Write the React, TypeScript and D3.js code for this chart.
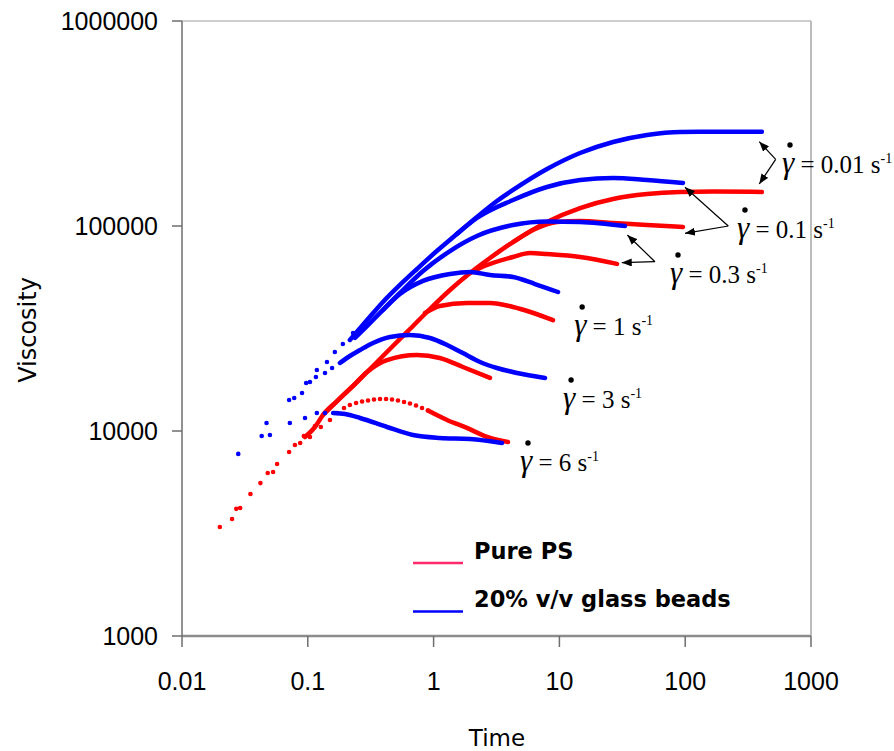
import React from "react";
import * as d3 from "d3";

const W = 894;
const H = 751;

const X_TICKS = [0.01, 0.1, 1, 10, 100, 1000];
const X_LABELS = ["0.01", "0.1", "1", "10", "100", "1000"];
const Y_TICKS = [1000, 10000, 100000, 1000000];
const Y_LABELS = ["1000", "10000", "100000", "1000000"];

// Pure PS  [time, viscosity]
const ps6Dots = [[0.020, 3400], [0.027, 4170], [0.035, 4930], [0.042, 5570], [0.053, 6310], [0.071, 7900], [0.087, 8740], [0.104, 9350], [0.127, 10460], [0.150, 11320], [0.171, 12240], [0.194, 12950], [0.216, 13390], [0.242, 13700], [0.270, 13920], [0.301, 14090], [0.336, 14240], [0.375, 14320], [0.419, 14320], [0.467, 14240], [0.521, 14090], [0.582, 13840], [0.649, 13620], [0.725, 13320], [0.809, 12950], [0.902, 12590]];
const ps6Line = [[0.902, 12590], [1.28, 11320], [1.84, 10350], [2.66, 9350], [3.9, 8840]];
const ps3Dots = [[0.025, 3720], [0.029, 4210], [0.048, 6240], [0.057, 6900], [0.079, 8550], [0.093, 9460], [0.114, 10580]];
const ps3Line = [[0.132, 11970], [0.171, 14000], [0.229, 16590], [0.296, 19400], [0.426, 22190], [0.738, 23480], [1.12, 22700], [1.71, 20520], [2.81, 18150]];
const ps1Line = [[0.855, 37660], [1.12, 40730], [1.84, 42110], [2.81, 42110], [4.28, 40290], [8.89, 34760]];
const ps03Line = [[1.95, 58990], [2.34, 62400], [4.28, 70630], [5.84, 73800], [7.97, 72980], [14.6, 70630], [28.7, 65320]];
const ps01Line = [[4.28, 83500], [6.4, 96700], [9.57, 104700], [14.6, 105800], [26.7, 103500], [49.7, 101100], [96.1, 98900]];
const ps001Line = [[0.095, 9350], [0.114, 10460], [0.132, 11970], [0.171, 14000], [0.229, 16590], [0.296, 19400], [0.375, 22450], [0.475, 25990], [0.649, 31440], [0.936, 39370], [1.35, 48730], [1.95, 58990], [2.81, 69800], [4.28, 83500], [7.97, 104700], [14.6, 122400], [26.7, 135500], [49.7, 143300], [91, 146600], [166, 147300], [407, 146600]];

// 20% v/v glass beads
const gb6Dots = [[0.028, 7730], [0.050, 9560], [0.072, 10940], [0.095, 11570], [0.118, 12240], [0.137, 12240]];
const gb6Line = [[0.159, 12240], [0.198, 12100], [0.26, 11570], [0.426, 10460], [0.686, 9560], [1.12, 9250], [1.95, 9140], [3.5, 8740]];
const gb3Dots = [[0.043, 9460], [0.071, 14160], [0.090, 15320], [0.116, 18340], [0.137, 19190], [0.156, 20290]];
const gb3Line = [[0.18, 21470], [0.216, 23220], [0.26, 24830], [0.33, 26870], [0.45, 28760], [0.649, 29410], [0.936, 28430], [1.28, 26280], [1.71, 23990], [2.34, 21720], [3.19, 20290], [4.6, 19190], [7.69, 18150]];
const gb1Dots = [[0.047, 10940], [0.078, 14490], [0.104, 17340], [0.142, 21720], [0.229, 30080]];
const gb1Line = [[0.396, 38920], [0.54, 46560], [0.824, 53950], [1.35, 58330], [1.95, 59680], [2.81, 57670], [4.28, 56370], [6.4, 52120], [9.75, 47640]];
const gb03Line = [[0.237, 28430], [0.29, 32140], [0.375, 37660], [0.54, 47130], [0.824, 60300], [1.35, 75500], [2.21, 89400], [4.28, 101100], [7.97, 105200], [14.6, 104700], [33.2, 100000]];
const gb01Line = [[1.53, 91400], [2.21, 109400], [4.28, 133900], [7.97, 155000], [14.6, 167600], [26.7, 171500], [49.7, 167600], [96.1, 162300]];
const gb001Dots = [[0.097, 17150], [0.118, 19850], [0.164, 24270], [0.19, 26570]];
const gb001Line = [[0.216, 27800], [0.296, 34760], [0.396, 42600], [0.54, 51570], [0.738, 61700], [1.06, 75500], [1.53, 91400], [2.21, 110700], [3.19, 132400], [4.28, 149900], [7.97, 189700], [14.6, 227000], [26.7, 257000], [49.7, 278000], [91, 287600], [166, 288000], [407, 288000]];

const RED = "#ff0000";
const BLUE = "#0000ff";

const series = [
  { color: RED, dots: ps6Dots, line: ps6Line },
  { color: RED, dots: ps3Dots, line: ps3Line },
  { color: RED, dots: [], line: ps1Line },
  { color: RED, dots: [], line: ps03Line },
  { color: RED, dots: [], line: ps01Line },
  { color: RED, dots: [], line: ps001Line },
  { color: BLUE, dots: gb6Dots, line: gb6Line },
  { color: BLUE, dots: gb3Dots, line: gb3Line },
  { color: BLUE, dots: gb1Dots, line: gb1Line },
  { color: BLUE, dots: [], line: gb03Line },
  { color: BLUE, dots: [], line: gb01Line },
  { color: BLUE, dots: gb001Dots, line: gb001Line },
];

// shear rate annotations, anchored in data coordinates
const RATE_LABELS = ["0.01", "0.1", "0.3", "1", "3", "6"];
const RATE_POS = [[588, 181400], [258, 87400], [75.7, 52700], [13.1, 29400], [10.7, 12950], [4.86, 6380]];
const ARROWS = [
  [[524, 211500], [388, 257800]],
  [[524, 211500], [388, 160300]],
  [[220, 100000], [99.6, 154500]],
  [[220, 100000], [99.6, 92100]],
  [[57.5, 66950], [34.7, 90400]],
  [[57.5, 66950], [31.3, 66200]],
];

const LEGEND = [
  { label: "Pure PS", color: "#ff2a6a" },
  { label: "20% v/v glass beads", color: BLUE },
];

const x = d3.scaleLog().domain([0.01, 1000]).range([182, 811]);
const y = d3.scaleLog().domain([1000, 1000000]).range([636, 21]);

export default function App() {
  const line = d3
    .line<number[]>()
    .x((d) => x(d[0]))
    .y((d) => y(d[1]))
    .curve(d3.curveMonotoneX);

  const labelFont = "DejaVu Sans";

  return (
    <svg
      width={W}
      height={H}
      style={{ position: "absolute", left: 0, top: 0, background: "#fff" }}
    >
      <defs>
        <marker
          id="ah"
          viewBox="0 0 10 8"
          refX={10}
          refY={4}
          markerWidth={10}
          markerHeight={8}
          markerUnits="userSpaceOnUse"
          orient="auto"
        >
          <path d="M0,0 L10,4 L0,8 z" fill="#000" />
        </marker>
      </defs>

      {/* frame */}
      <line x1={182} x2={811} y1={21} y2={21} stroke="#bdbdbd" strokeWidth={1.5} />
      <line x1={811} x2={811} y1={21} y2={636} stroke="#bdbdbd" strokeWidth={2} />
      <line x1={182} x2={811} y1={636} y2={636} stroke="#8c8c8c" strokeWidth={2.5} />
      <line x1={182} x2={182} y1={21} y2={636} stroke="#6e6e6e" strokeWidth={1.5} />

      {Y_TICKS.map((t, i) => (
        <g key={"y" + t}>
          <line x1={172} x2={182} y1={y(t)} y2={y(t)} stroke="#6e6e6e" strokeWidth={1.5} />
          <text
            x={158}
            y={y(t) + 9}
            textAnchor="end"
            fontFamily="Liberation Sans"
            fontSize={25}
            fill="#000"
          >
            {Y_LABELS[i]}
          </text>
        </g>
      ))}
      {X_TICKS.map((t, i) => (
        <g key={"x" + t}>
          <line x1={x(t)} x2={x(t)} y1={636} y2={647} stroke="#6e6e6e" strokeWidth={1.5} />
          <text
            x={x(t)}
            y={690}
            textAnchor="middle"
            fontFamily="Liberation Sans"
            fontSize={25}
            fill="#000"
          >
            {X_LABELS[i]}
          </text>
        </g>
      ))}

      <text
        transform="translate(36,330) rotate(-90)"
        textAnchor="middle"
        fontFamily={labelFont}
        fontSize={24}
        fill="#000"
      >
        Viscosity
      </text>
      <text x={497} y={746} textAnchor="middle" fontFamily={labelFont} fontSize={23} fill="#000">
        Time
      </text>

      {/* data */}
      {series.map((s, i) => (
        <g key={"s" + i}>
          <path
            d={line(s.line) || ""}
            fill="none"
            stroke={s.color}
            strokeWidth={4.5}
            strokeLinecap="round"
            strokeLinejoin="round"
          />
          {s.dots.map((d, j) => (
            <circle key={j} cx={x(d[0])} cy={y(d[1])} r={2.3} fill={s.color} />
          ))}
        </g>
      ))}

      {/* arrows */}
      {ARROWS.map((a, i) => (
        <line
          key={"a" + i}
          x1={x(a[0][0])}
          y1={y(a[0][1])}
          x2={x(a[1][0])}
          y2={y(a[1][1])}
          stroke="#000"
          strokeWidth={1.2}
          markerEnd="url(#ah)"
        />
      ))}

      {/* shear rate labels */}
      {RATE_LABELS.map((r, i) => {
        const px = x(RATE_POS[i][0]);
        const py = y(RATE_POS[i][1]);
        return (
          <g key={"r" + r}>
            <circle cx={px + 8} cy={py - 28} r={2.7} fill="#000" />
            <text x={px} y={py} fontFamily="Liberation Serif" fontSize={25} fill="#000">
              <tspan fontStyle="italic" fontSize={31}>
                γ
              </tspan>
              <tspan>{" = " + r + " s"}</tspan>
              <tspan dy={-10} fontSize={14}>
                -1
              </tspan>
            </text>
          </g>
        );
      })}

      {/* legend */}
      {LEGEND.map((l, i) => (
        <g key={"l" + i}>
          <line
            x1={413}
            x2={463}
            y1={563 + i * 48.5}
            y2={563 + i * 48.5}
            stroke={l.color}
            strokeWidth={2.5}
          />
          <text
            x={474}
            y={559 + i * 48}
            fontFamily={labelFont}
            fontWeight="bold"
            fontSize={22.5}
            fill="#000"
          >
            {l.label}
          </text>
        </g>
      ))}
    </svg>
  );
}
